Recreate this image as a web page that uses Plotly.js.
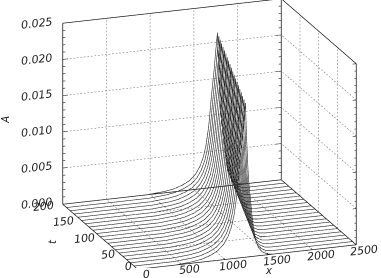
<!DOCTYPE html>
<html><head><meta charset="utf-8">
<script src="https://cdn.plot.ly/plotly-3.0.1.min.js"></script>
<style>html,body{margin:0;padding:0;background:#fff}#c{width:381px;height:278px}</style>
</head><body><div id="c"></div>
<script>
// Values
const xTicks = [0,500,1000,1500,2000,2500];
const tTicks = [0,50,100,150,200];
const zTicks = [0,0.005,0.010,0.015,0.020,0.025];
const zMinor = [0.001,0.002,0.003,0.004,0.006,0.007,0.008,0.009,0.011,0.012,0.013,0.014,0.016,0.017,0.018,0.019,0.021,0.022,0.023,0.024];
const xLabels = ['0','500','1000','1500','2000','2500'];
const tLabels = ['0','50','100','150','200'];
const zLabels = ['0.000','0.005','0.010','0.015','0.020','0.025'];
const tSeries = [0,10,20,30,40,50,60,70,80,90,100,110,120,130,140,150,160,170,180,190,200];
const peakX = [1232,1259,1286,1313,1340,1367,1394,1421,1447,1474,1501,1528,1555,1582,1609,1636,1662,1689,1716,1743,1770];
const pulseOffset = [-800,-700,-600,-500,-400,-320,-250,-200,-160,-130,-100,-70,-40,-20,0,10,20,35,57,80,114,150,190,250,320];
const pulseA = [0,0.0001,0.0002,0.0004,0.0008,0.0013,0.0021,0.0031,0.0044,0.0060,0.0085,0.0125,0.0160,0.0188,0.0213,0.0175,0.0145,0.0107,0.0079,0.0050,0.0023,0.0011,0.0005,0.0001,0];

const X1=2500,T1=200,Z1=0.025;
const traces=[];
function seg(list){const a={x:[],y:[],z:[]};list.forEach(s=>{s.forEach(p=>{a.x.push(p[0]);a.y.push(p[1]);a.z.push(p[2]);});a.x.push(null);a.y.push(null);a.z.push(null);});return a;}
function addLine(list,color,width){const a=seg(list);traces.push({type:'scatter3d',mode:'lines',x:a.x,y:a.y,z:a.z,line:{color:color,width:width},hoverinfo:'skip',showlegend:false});}

// dotted grid: each rule is cut into short pieces so it reads as dots at this size
function dots(a,b,cells){const out=[];for(let i=0;i<cells;i++){const p=i/cells,q=(i+0.5)/cells;
  out.push([[a[0]+(b[0]-a[0])*p,a[1]+(b[1]-a[1])*p,a[2]+(b[2]-a[2])*p],[a[0]+(b[0]-a[0])*q,a[1]+(b[1]-a[1])*q,a[2]+(b[2]-a[2])*q]]);}return out;}
let grid=[];
xTicks.slice(1,-1).forEach(v=>{grid=grid.concat(dots([v,T1,0],[v,T1,Z1],52),dots([v,0,0],[v,T1,0],29));});
tTicks.slice(1,-1).forEach(v=>{grid=grid.concat(dots([X1,v,0],[X1,v,Z1],52),dots([0,v,0],[X1,v,0],62));});
zTicks.slice(1,-1).forEach(v=>{grid=grid.concat(dots([0,T1,v],[X1,T1,v],62),dots([X1,0,v],[X1,T1,v],29));});
addLine(grid,'#666',1);

// curves
tSeries.forEach((t,i)=>{
  const xs=[0],ys=[t],zs=[0];
  pulseOffset.forEach((o,k)=>{xs.push(peakX[i]+o);ys.push(t);zs.push(pulseA[k]);});
  xs.push(X1);ys.push(t);zs.push(0);
  traces.push({type:'scatter3d',mode:'lines',x:xs,y:ys,z:zs,line:{color:'#222',width:1.2},hoverinfo:'skip',showlegend:false});
});

// box edges
addLine([
 [[0,T1,0],[0,T1,Z1]],[[X1,T1,0],[X1,T1,Z1]],[[X1,0,0],[X1,0,Z1]],
 [[0,T1,Z1],[X1,T1,Z1]],[[X1,T1,Z1],[X1,0,Z1]],
 [[0,T1,0],[X1,T1,0]],[[0,0,0],[0,T1,0]],[[X1,0,0],[X1,T1,0]],[[0,0,0],[X1,0,0]]
],'#111',1.4);
// ticks
const ticks=[];
zTicks.forEach(v=>{ticks.push([[0,T1,v],[60,T1,v]]);ticks.push([[X1,T1,v],[X1-60,T1,v]]);ticks.push([[X1,0,v],[X1-40,0,v]]);});
zMinor.forEach(v=>{ticks.push([[0,T1,v],[30,T1,v]]);ticks.push([[X1,T1,v],[X1-30,T1,v]]);ticks.push([[X1,0,v],[X1-20,0,v]]);});
xTicks.forEach(v=>ticks.push([[v,0,0],[v,5,0]]));
tTicks.forEach(v=>ticks.push([[0,v,0],[60,v,0]]));
addLine(ticks,'#222',1.2);

const f={family:'DejaVu Sans',size:11,color:'#222',style:'italic'};
const ann=[];
function label(text,x,y,z,dx,dy,angle,size){ann.push({text:text,x:x,y:y,z:z,xshift:dx,yshift:dy,textangle:angle,showarrow:false,font:size?Object.assign({},f,{size:size}):f,xanchor:'center',yanchor:'middle'});}
zTicks.forEach((v,i)=>label(zLabels[i],0,T1,v,-25,0,-6));
xTicks.forEach((v,i)=>label(xLabels[i],v,0,0,9,-6,-6));
const tShiftX=[-9,-10,-15,-17,-19], tShiftY=[2,-1.5,-2,-1.5,-3];
tTicks.forEach((v,i)=>label(tLabels[i],0,v,0,tShiftX[i],tShiftY[i],-6));
label('x',1500,0,0,0,-16,0,10);
label('t',0,100,0,-47,-5,-90,10);
label('A',0,T1,0.0125,-57,-6,-90,10);

const n=[-0.3215,-0.8940,0.3117],d=2;
const layout={width:381,height:278,margin:{l:0,r:0,t:0,b:0},paper_bgcolor:'#fff',showlegend:false,
 scene:{domain:{x:[36.5/381,1],y:[10.5/278,1]},bgcolor:'#fff',
  xaxis:{range:[0,X1],visible:false},yaxis:{range:[0,T1],visible:false},zaxis:{range:[0,Z1],visible:false},
  aspectmode:'manual',aspectratio:{x:1.733,y:1.654,z:1.422},
  camera:{projection:{type:'orthographic'},up:{x:0,y:0,z:1},center:{x:0,y:0,z:0},eye:{x:n[0]*d,y:n[1]*d,z:n[2]*d}},
  annotations:ann}};
Plotly.newPlot('c',traces,layout,{displayModeBar:false});
</script></body></html>
